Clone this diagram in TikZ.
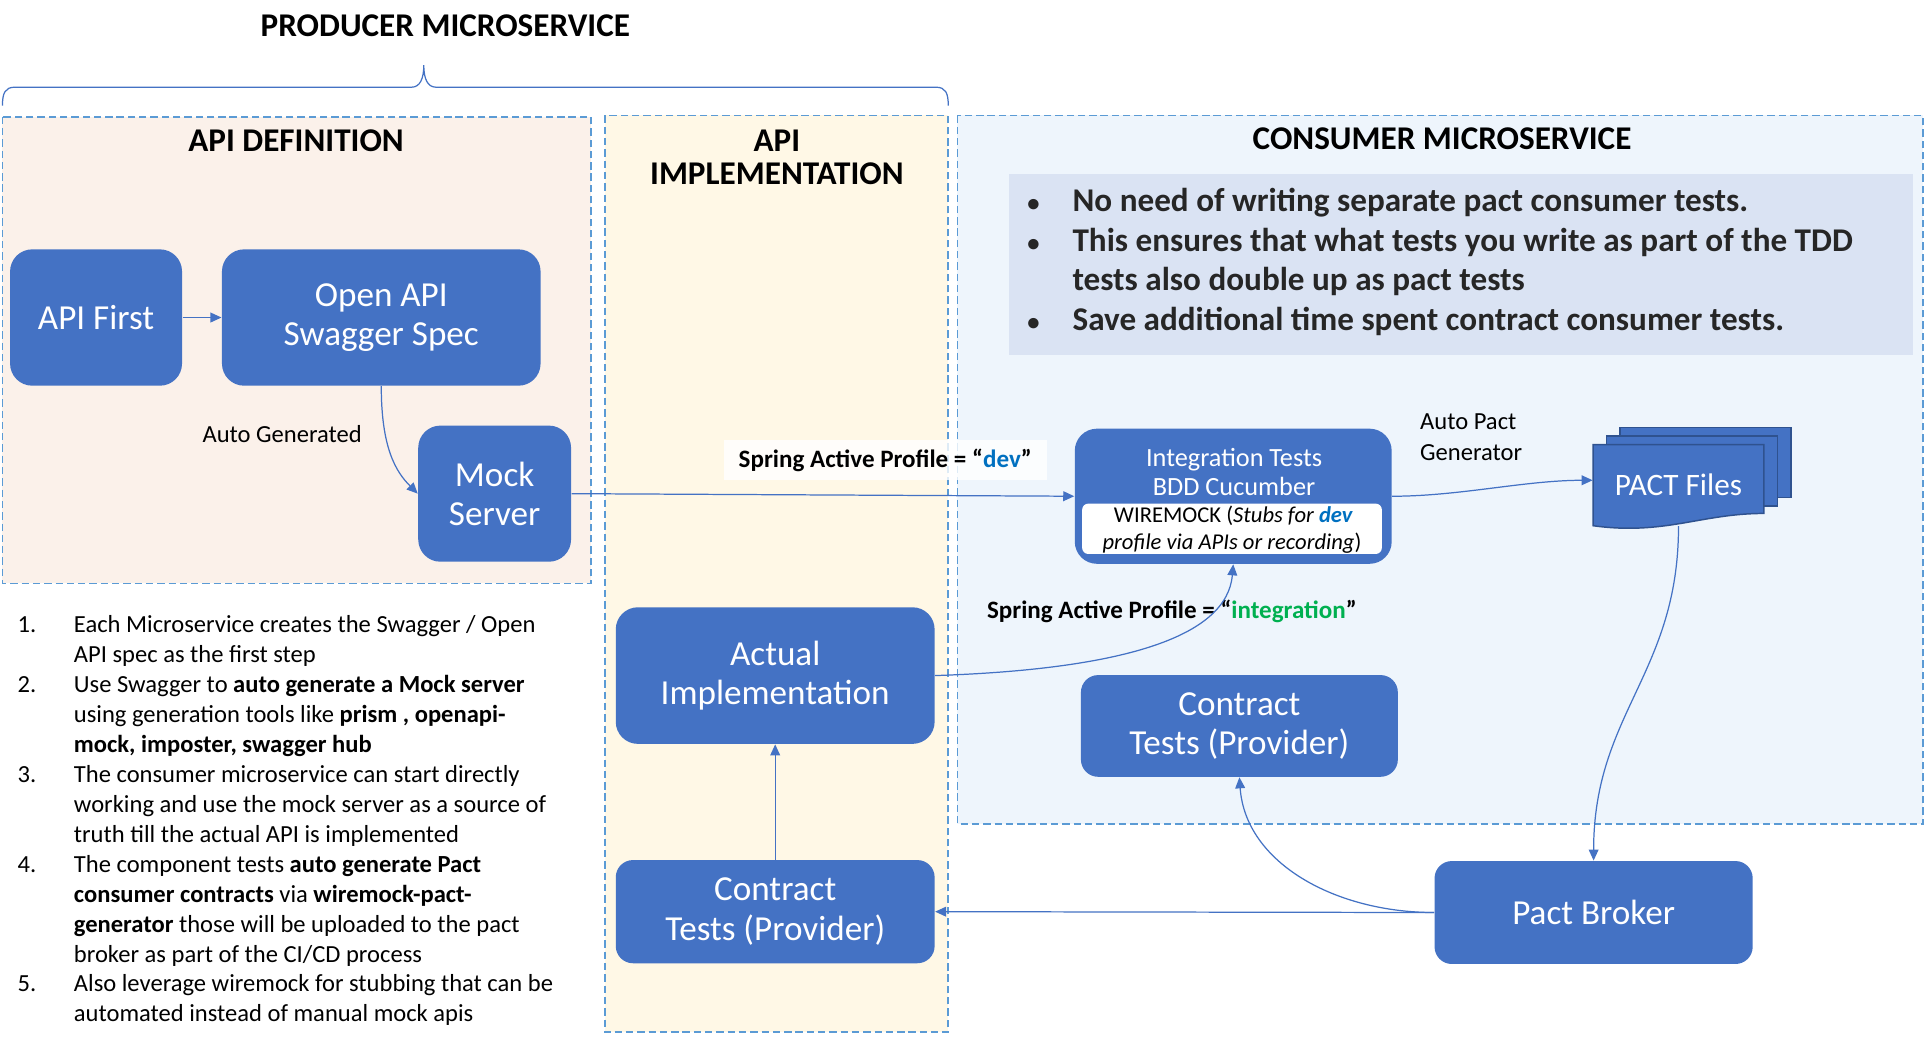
\documentclass[tikz,border=0pt]{standalone}
\usepackage{fontspec}
\setmainfont{Carlito}
\usetikzlibrary{arrows.meta}
\definecolor{nodeblue}{HTML}{4472C4}
\definecolor{dashblue}{HTML}{5B9BD5}
\definecolor{peach}{HTML}{FBF1EA}
\definecolor{cream}{HTML}{FFF8E6}
\definecolor{paleblue}{HTML}{EEF5FC}
\definecolor{bulletbg}{HTML}{DAE3F3}
\definecolor{devblue}{HTML}{0070C0}
\definecolor{intgreen}{HTML}{00B050}
\definecolor{docborder}{HTML}{2F528F}
\definecolor{bullettext}{HTML}{262626}
\newcommand{\fsz}[2]{\fontsize{#1}{#2}\selectfont}
\newcommand{\bul}{\makebox[18.4pt][l]{\fsz{10}{12}•}}
\begin{document}
\begin{tikzpicture}[x=0.5pt,y=-0.5pt,
  region/.style={draw=dashblue,line width=0.75pt,dash pattern=on 3pt off 1.6pt},
  blk/.style={fill=nodeblue,text=white,align=center,inner sep=0pt,rounded corners=9pt,font=\fsz{14.3}{16}},
  blks/.style={blk,rounded corners=7pt},
  conn/.style={draw=nodeblue,line width=0.5pt,-{Triangle[length=4.5pt,width=4pt]}},
  ttl/.style={font=\bfseries\fsz{13.5}{13.6},anchor=base,inner sep=0pt},
  lbl/.style={font=\fsz{10}{12},anchor=base west,inner sep=0pt},
  doc/.style={draw=docborder,line width=0.6pt,fill=nodeblue}
]
\useasboundingbox (0,0) rectangle (1568,850);
\fill[white] (0,0) rectangle (1568,850);

% regions
\draw[region,fill=peach] (2,95) rectangle (481,475);
\draw[region,fill=cream] (492.5,94) rectangle (772,840.5);
\draw[region,fill=paleblue] (779.5,94) rectangle (1565.5,671);
\fill[bulletbg] (821.5,141.7) rectangle (1557,289);

% brace
\draw[nodeblue,line width=0.5pt] (2,86) .. controls (2,76) and (4,71) .. (12,71) -- (335,71)
  .. controls (342,71) and (345,64) .. (345,53) .. controls (345,64) and (348,71) .. (355,71)
  -- (762,71) .. controls (770,71) and (772,76) .. (772,86);

% titles
\node[ttl] (tprod) at (362.6,29.9) {PRODUCER MICROSERVICE};
\node[ttl] (tdef) at (241,123.5) {API DEFINITION};
\node[ttl] (timpla) at (632.5,123.5) {API};
\node[ttl] (timplb) at (632.5,150.6) {IMPLEMENTATION};
\node[ttl] (tcons) at (1174,122) {CONSUMER MICROSERVICE};

% bullets (anchor = baseline of the last line)
\node[anchor=base west,inner sep=0pt,align=left,text=bullettext,font=\bfseries\fsz{13.5}{16.05}] (bullets) at (836,268.7)
 {\bul No need of writing separate pact consumer tests.\\
  \bul This ensures that what tests you write as part of the TDD\\
  \makebox[18.4pt][l]{}tests also double up as pact tests\\
  \bul Save additional time spent contract consumer tests.};

% numbered notes (anchor = baseline of the last line)
\node[anchor=base west,inner sep=0pt,align=left,font=\fsz{10}{12.2}] (notes) at (14,832)
 {\makebox[22.9pt][l]{1.}Each Microservice creates the Swagger / Open\\
  \makebox[22.9pt][l]{}API spec as the first step\\
  \makebox[22.9pt][l]{2.}Use Swagger to \textbf{auto generate a Mock server}\\
  \makebox[22.9pt][l]{}using generation tools like \textbf{prism , openapi-}\\
  \makebox[22.9pt][l]{}\textbf{mock, imposter, swagger hub}\\
  \makebox[22.9pt][l]{3.}The consumer microservice can start directly\\
  \makebox[22.9pt][l]{}working and use the mock server as a source of\\
  \makebox[22.9pt][l]{}truth till the actual API is implemented\\
  \makebox[22.9pt][l]{4.}The component tests \textbf{auto generate Pact}\\
  \makebox[22.9pt][l]{}\textbf{consumer contracts} via \textbf{wiremock-pact-}\\
  \makebox[22.9pt][l]{}\textbf{generator} those will be uploaded to the pact\\
  \makebox[22.9pt][l]{}broker as part of the CI/CD process\\
  \makebox[22.9pt][l]{5.}Also leverage wiremock for stubbing that can be\\
  \makebox[22.9pt][l]{}automated instead of manual mock apis};

% blocks
\node[blk,minimum width=70pt,minimum height=55.5pt] (apifirst) at (78.2,258.5) {API First};
\node[blk,minimum width=129.7pt,minimum height=55.5pt] (openapi) at (310.4,258.5) {Open API\\Swagger Spec};
\node[blk,minimum width=62.2pt,minimum height=55.4pt] (mock) at (402.7,401.9) {Mock\\Server};
\node[blk,minimum width=129.8pt,minimum height=55.6pt] (actual) at (631.1,550) {Actual\\Implementation};
\node[blks,minimum width=129.8pt,minimum height=42pt] (contractL) at (631.1,742.2) {Contract\\Tests (Provider)};
\node[blks,minimum width=129pt,minimum height=41.4pt] (contractR) at (1009,591) {Contract\\Tests (Provider)};
\node[blks,minimum width=129.5pt,minimum height=41.9pt] (broker) at (1297.4,742.9) {Pact Broker};
\node[blk,minimum width=129pt,minimum height=55pt] (integ) at (1004,404) {};
\node[fill=white,rounded corners=2.5pt,minimum width=122pt,minimum height=20.5pt,inner sep=0pt] (wire) at (1003,430.5) {};
\node[anchor=base,inner sep=0pt,text=white,font=\fsz{10.7}{11.8}] (intega) at (1004.7,379.4) {Integration Tests};
\node[anchor=base,inner sep=0pt,text=white,font=\fsz{10.7}{11.8}] (integb) at (1004.7,403) {BDD Cucumber};
\node[anchor=base,inner sep=0pt,font=\fsz{9.2}{11}] (wirea) at (1004,425.5) {WIREMOCK (\textit{Stubs for \textbf{\textcolor{devblue}{dev}}}};
\node[anchor=base,inner sep=0pt,font=\fsz{9.2}{11}] (wireb) at (1003,447) {\textit{profile via APIs or recording})};

% PACT files (stacked documents)
\draw[doc] (1319,348) rectangle (1458,405);
\draw[doc] (1308,355) rectangle (1447,412);
\draw[doc] (1297,362) -- (1436,362) -- (1436,418) .. controls (1385,418) and (1355,436) .. (1297,428) -- cycle;
\node[text=white,font=\fsz{12.7}{14},inner sep=0pt,minimum width=69.5pt,minimum height=33pt] (pact) at (1366.5,395) {PACT Files};

% labels
\node[lbl] (autogen) at (164.5,360.4) {Auto Generated};
\node[lbl] (autopacta) at (1155.8,350) {Auto Pact};
\node[lbl] (autopactb) at (1155.8,374.5) {Generator};
\node[anchor=west,fill=white,fill opacity=0.8,text opacity=1,inner xsep=6pt,inner ysep=0pt,minimum height=16.5pt,font=\bfseries\fsz{10.2}{12}] (devlbl) at (589,374.5) {Spring Active Profile = “\textcolor{devblue}{dev}”\hspace{9pt}};
\node[anchor=base west,inner sep=0pt,font=\bfseries\fsz{10.2}{12}] (intlbl) at (803.2,503.4) {Spring Active Profile = “\textcolor{intgreen}{integration}”};

% connectors
\draw[conn] (apifirst.east) -- (openapi.west);
\draw[conn] (openapi.south) .. controls +(0,50) and +(-18,-18) .. (mock.west);
\draw[conn] (mock.east) -- (integ.west);
\draw[conn] (integ.east) .. controls +(55,0) and +(-55,0) .. ([yshift=2pt]pact.west);
\draw[conn] (pact.south) .. controls +(0,120) and +(0,-120) .. (broker.north);
\draw[conn] (actual.east) .. controls +(150,-5) and +(-5,60) .. (integ.south);
\draw[conn] (contractL.north) -- (actual.south);
\draw[conn] (broker.west) -- (contractL.east);
\draw[conn] (broker.west) .. controls +(-80,0) and +(5,70) .. (contractR.south);
\end{tikzpicture}
\end{document}
